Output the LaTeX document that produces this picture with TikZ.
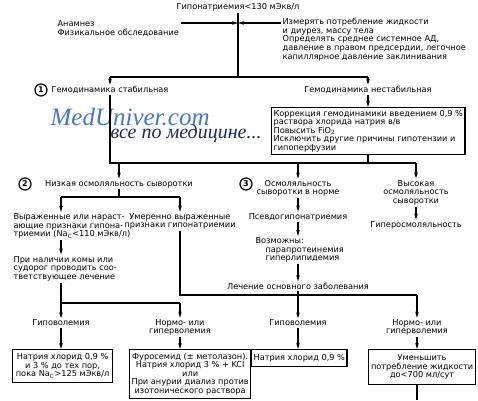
\documentclass[tikz,border=0pt]{standalone}
\usepackage{fontspec}
\setmainfont{DejaVu Sans}
\newfontfamily\wmfont{Liberation Serif}
\usetikzlibrary{arrows.meta}

\tikzset{
	txt/.style={inner sep=1pt, font=\fontsize{8.2}{8.6}\selectfont},
	box/.style={txt, draw, line width=1.2pt, inner sep=2pt},
	num/.style={circle, draw, line width=1.2pt, inner sep=0pt, minimum size=12pt, font=\bfseries\fontsize{8}{8}\selectfont},
}

\begin{document}
\begin{tikzpicture}[x=1pt, y=-1pt, line width=1.2pt, >={Stealth[length=6pt, width=3.5pt]}]
	\useasboundingbox (0,0) rectangle (478,400);
	% rows and columns
	\coordinate (r1) at (0,77);
	\coordinate (r2) at (0,163);
	\coordinate (r3) at (0,197);
	\coordinate (r4) at (0,295);
	\coordinate (r5) at (0,303);
	\coordinate (cA) at (61,0);
	\coordinate (cB) at (180,0);
	\coordinate (cC) at (298,0);
	\coordinate (cD) at (417,0);
	\coordinate (in1) at (238,23);
	\coordinate (bot) at (417,400);

	% watermark
	\node[inner sep=0pt, anchor=base west, text={rgb,255:red,70;green,120;blue,195}, font=\wmfont\itshape\fontsize{25}{25}\selectfont] (wm1) at (50,125) {MedUniver.com};
	\node[inner sep=0pt, anchor=base west, text={rgb,255:red,30;green,40;blue,90}, font=\wmfont\itshape\fontsize{20}{20}\selectfont] (wm2) at (110,138) {все по медицине...};

	\node[txt] (hypo) at (238,7) {Гипонатриемия<130 мЭкв/л};
	\node[txt, anchor=west, align=left] (anam) at (56,28.5) {Анамнез\\Физикальное обследование};
	\node[txt, anchor=west, align=left] (meas) at (281,39.5) {Измерять потребление жидкости\\и диурез, массу тела\\Определять среднее системное АД,\\давление в правом предсердии, легочное\\капиллярное давление заклинивания};

	\node[num] (n1) at (41,90) {1};
	\node[txt] (stab) at (110,90) {Гемодинамика стабильная};
	\node[txt] (unstab) at (368,90) {Гемодинамика нестабильная};
	\node[box, anchor=north west, align=left, minimum width=192pt, minimum height=47pt] (corr) at (271,107) {Коррекция гемодинамики введением 0,9 \%\\раствора хлорида натрия в/в\\Повысить FiO\textsubscript{2}\\Исключить другие причины гипотензии и\\гипоперфузии};

	\node[num] (n2) at (25,184) {2};
	\node[txt] (low) at (119,184) {Низкая осмоляльность сыворотки};
	\node[num] (n3) at (246,184) {3};
	\node[txt, align=center] (normosm) at (298,188.5) {Осмоляльность\\сыворотки в норме};
	\node[txt, align=center] (highosm) at (416,192.5) {Высокая\\осмоляльность\\сыворотки};

	\node[txt, anchor=west, align=left] (severe) at (12,226) {Выраженные или нараст-\\ающие признаки гипона-\\триемии (Na\textsubscript{C}<110 мЭкв/л)};
	\node[txt, align=center] (moder) at (180,221.5) {Умеренно выраженные\\признаки гипонатриемии};
	\node[txt, anchor=west, align=left] (coma) at (12,268.5) {При наличии комы или\\судорог проводить соо-\\тветствующее лечение};
	\node[txt] (pseudo) at (298,217) {Псевдогипонатриемия};
	\node[txt, anchor=west, align=left] (poss) at (254,250) {Возможны:\\\hspace*{10pt}парапротеинемия\\\hspace*{10pt}гиперлипидемия};
	\node[txt] (treat) at (298,286) {Лечение основного заболевания};
	\node[txt] (hyperosm) at (416,225) {Гиперосмоляльность};

	\node[txt] (hv1) at (61,323) {Гиповолемия};
	\node[txt, align=center] (nv1) at (180,327.5) {Нормо- или\\гиперволемия};
	\node[txt] (hv2) at (298,323) {Гиповолемия};
	\node[txt, align=center] (nv2) at (417,327.5) {Нормо- или\\гиперволемия};

	\node[box, anchor=north west, align=center, minimum width=100pt, minimum height=33pt] (b1) at (12,349) {Натрия хлорид 0,9 \%\\и 3 \% до тех пор,\\пока Na\textsubscript{C}>125 мЭкв/л};
	\node[box, anchor=north west, align=center, minimum width=111pt, minimum height=49pt] (b2) at (129,349) {Фуросемид (± метолазон).\\Натрия хлорид 3 \% + KCl\\или\\При анурии диализ против\\изотонического раствора};
	\node[box, anchor=north west, align=center, minimum width=95pt, minimum height=17pt] (b3) at (251,349) {Натрия хлорид 0,9 \%};
	\node[box, anchor=north west, align=center, minimum width=107pt, minimum height=35pt] (b4) at (368,349) {Уменьшить\\потребление жидкости\\до<700 мл/сут};

	% connectors
	\draw (hypo) -- (hypo |- r1);
	\draw[->] (anam.east |- in1) -- (in1);
	\draw[->] (meas.west |- in1) -- (in1);
	\draw (stab |- r1) -- (unstab |- r1);
	\draw[->] (stab |- r1) -- (stab.north);
	\draw[->] (unstab |- r1) -- (unstab.north);
	\draw[->] (unstab.south) -- (corr.north -| unstab);
	\draw (stab.south) -- (stab |- r2) -- (highosm |- r2);
	\draw (corr.south -| unstab) -- (unstab |- r2);
	\draw[->] (low |- r2) -- (low.north);
	\draw[->] (normosm |- r2) -- (normosm.north);
	\draw[->] (highosm |- r2) -- (highosm.north);

	\draw (low.south) -- (low |- r3);
	\draw (cA |- r3) -- (cB |- r3);
	\draw[->] (cA |- r3) -- (severe.north -| cA);
	\draw[->] (cB |- r3) -- (moder.north -| cB);
	\draw[->] (severe.south -| cA) -- (coma.north -| cA);
	\draw (coma.south -| cA) -- (cA |- r5) -- (cB |- r5);
	\draw[->] (cA |- r5) -- (hv1.north);
	\draw[->] (cB |- r5) -- (nv1.north);
	\draw (moder.south -| cB) -- (cB |- r4) -- (cD |- r4);

	\draw[->] (normosm) -- (pseudo);
	\draw[->] (pseudo) -- (poss.north -| cC);
	\draw[->] (poss.south -| cC) -- (treat.north);
	\draw (treat.south) -- (treat |- r4);
	\draw[->] (cC |- r4) -- (hv2.north);
	\draw[->] (cD |- r4) -- (nv2.north);
	\draw[->] (highosm) -- (hyperosm);

	\draw[->] (hv1) -- (b1.north -| cA);
	\draw[->] (nv1) -- (b2.north -| cB);
	\draw[->] (hv2) -- (b3.north -| cC);
	\draw[->] (nv2) -- (b4.north -| cD);
	\draw (b4.south -| cD) -- (bot);
\end{tikzpicture}
\end{document}
